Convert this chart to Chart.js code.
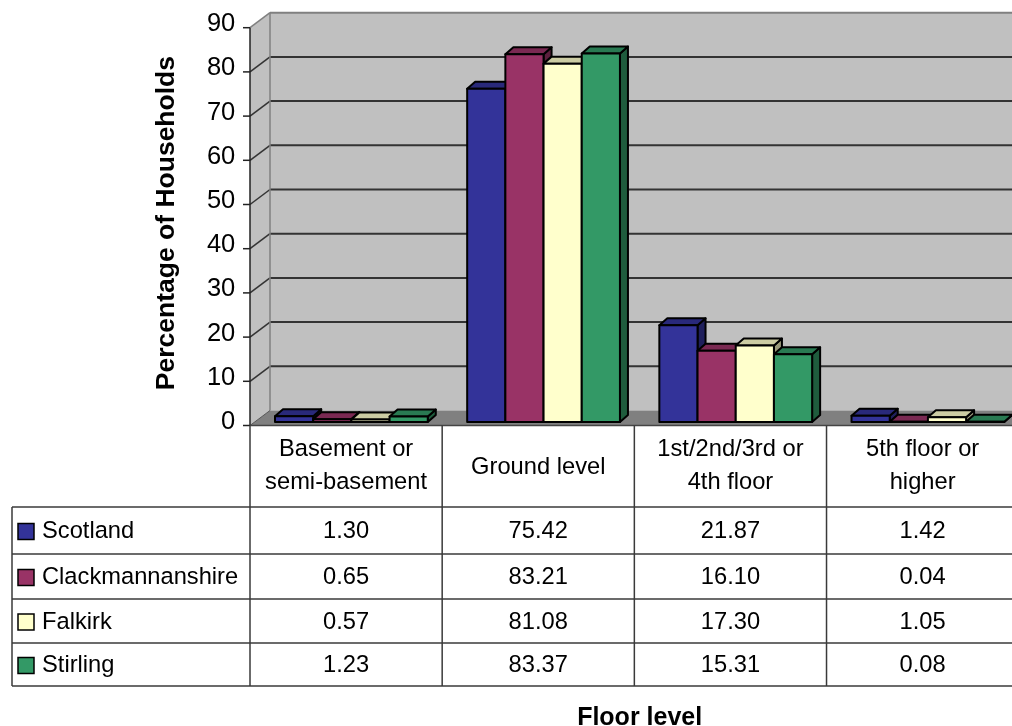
<!DOCTYPE html>
<html>
<head>
<meta charset="utf-8">
<script src="https://cdn.jsdelivr.net/npm/chart.js@4.4.1/dist/chart.umd.min.js"></script>
<style>
  html, body { margin: 0; padding: 0; background: #fff; overflow: hidden; }
  canvas { display: block; }
</style>
</head>
<body>
<canvas id="floorChart" width="1024" height="726"></canvas>
<script>
// data
const categories = [["Basement or", "semi-basement"], ["Ground level"], ["1st/2nd/3rd or", "4th floor"], ["5th floor or", "higher"]];
const seriesNames = ["Scotland", "Clackmannanshire", "Falkirk", "Stirling"];
const scotland = [1.30, 75.42, 21.87, 1.42];
const clackmannanshire = [0.65, 83.21, 16.10, 0.04];
const falkirk = [0.57, 81.08, 17.30, 1.05];
const stirling = [1.23, 83.37, 15.31, 0.08];
const seriesColors = ["#333399", "#993366", "#FFFFCC", "#339966"];

const FONT = '"Liberation Sans", Arial, sans-serif';
Chart.defaults.font.family = FONT;
Chart.defaults.color = "#000";

// 3d look: offsets from the bar plane
const BAR_DX = 8, BAR_DY = -7;
const FRONT_DX = -5.3, FRONT_DY = 3.5;
const BACK_DX = 14.7, BACK_DY = -11.5;
const ROW_LINES = [507, 554, 599, 643, 686];
const TABLE_FONT = 23.7;

function shade(hex, f) {
  const n = parseInt(hex.slice(1), 16);
  const r = Math.round(((n >> 16) & 255) * f);
  const g = Math.round(((n >> 8) & 255) * f);
  const b = Math.round((n & 255) * f);
  return `rgb(${r},${g},${b})`;
}

function poly(ctx, pts, fill, stroke, lw) {
  ctx.beginPath();
  ctx.moveTo(pts[0][0], pts[0][1]);
  for (let i = 1; i < pts.length; i++) ctx.lineTo(pts[i][0], pts[i][1]);
  ctx.closePath();
  if (fill) { ctx.fillStyle = fill; ctx.fill(); }
  if (stroke) { ctx.strokeStyle = stroke; ctx.lineWidth = lw; ctx.stroke(); }
}

function line(ctx, x1, y1, x2, y2, color, lw) {
  ctx.beginPath();
  ctx.moveTo(x1, y1);
  ctx.lineTo(x2, y2);
  ctx.strokeStyle = color;
  ctx.lineWidth = lw;
  ctx.stroke();
}

const walls3d = {
  id: "walls3d",
  beforeDatasetsDraw(chart) {
    const { ctx, chartArea, scales: { y } } = chart;
    const fx = chartArea.left + FRONT_DX;
    const bx = chartArea.left + BACK_DX;
    const right = chart.width;
    const yF = (v) => y.getPixelForValue(v) + FRONT_DY;
    const yB = (v) => y.getPixelForValue(v) + BACK_DY;
    const vmax = y.max, vmin = y.min;
    ctx.save();
    // back wall + side wall
    poly(ctx, [[bx, yB(vmax)], [right, yB(vmax)], [right, yB(vmin)], [bx, yB(vmin)]], "#C0C0C0");
    poly(ctx, [[fx, yF(vmax)], [bx, yB(vmax)], [bx, yB(vmin)], [fx, yF(vmin)]], "#C0C0C0");
    // floor
    poly(ctx, [[fx, yF(vmin)], [bx, yB(vmin)], [right, yB(vmin)], [right, yF(vmin)]], "#808080");
    // gridlines
    y.ticks.forEach((t) => {
      const v = t.value;
      if (v === vmin) return;
      const c = v === vmax ? "#808080" : "#333";
      line(ctx, bx, yB(v), right, yB(v), c, 2);
      line(ctx, fx, yF(v), bx, yB(v), c, 1.5);
    });
    line(ctx, bx, yB(vmax), bx, yB(vmin), "#808080", 1.5);
    line(ctx, fx, yF(vmin), bx, yB(vmin), "#555", 1);
    // front axis
    line(ctx, fx, yF(vmax), fx, yF(vmin), "#222", 1.5);
    y.ticks.forEach((t) => line(ctx, fx - 7, yF(t.value), fx, yF(t.value), "#222", 1.5));
    ctx.restore();
  },
  afterDatasetsDraw(chart) {
    const { ctx } = chart;
    ctx.save();
    ctx.lineJoin = "round";
    const n = chart.data.labels.length;
    for (let i = 0; i < n; i++) {
      chart.data.datasets.forEach((ds, d) => {
        const el = chart.getDatasetMeta(d).data[i];
        const { x, y, base, width } = el.getProps(["x", "y", "base", "width"], true);
        const l = x - width / 2, r = x + width / 2;
        const c = seriesColors[d];
        poly(ctx, [[r, y], [r + BAR_DX, y + BAR_DY], [r + BAR_DX, base + BAR_DY], [r, base]], shade(c, 0.6), "#000", 2);
        poly(ctx, [[l, y], [l + BAR_DX, y + BAR_DY], [r + BAR_DX, y + BAR_DY], [r, y]], shade(c, 0.8), "#000", 2);
        poly(ctx, [[l, y], [r, y], [r, base], [l, base]], c, "#000", 2);
      });
    }
    ctx.restore();
  },
  afterDraw(chart) {
    const { ctx, scales: { x, y } } = chart;
    const right = chart.width;
    const catW = x.width / chart.data.labels.length;
    const yTop = y.getPixelForValue(y.min) + FRONT_DY;
    const legendLeft = 12;
    const bounds = chart.data.labels.map((_, i) => x.getPixelForValue(i) - catW / 2 + FRONT_DX);
    bounds.push(bounds[bounds.length - 1] + catW);
    const lineColor = "#3a3a3a";
    const last = ROW_LINES[ROW_LINES.length - 1];
    ctx.save();
    // grid of the data table
    line(ctx, bounds[0], yTop, right, yTop, "#444", 1.5);
    ROW_LINES.forEach((ry) => line(ctx, legendLeft, ry, right, ry, lineColor, 1.5));
    line(ctx, legendLeft, ROW_LINES[0], legendLeft, last, lineColor, 1.5);
    bounds.slice(0, -1).forEach((bxp) => line(ctx, bxp, yTop, bxp, last, lineColor, 1.5));

    ctx.fillStyle = "#000";
    ctx.textAlign = "center";
    ctx.textBaseline = "middle";
    ctx.font = `${TABLE_FONT}px ${FONT}`;
    // category headers
    const headMid = (yTop + ROW_LINES[0]) / 2;
    categories.forEach((lab, i) => {
      const cx = (bounds[i] + bounds[i + 1]) / 2;
      if (lab.length === 1) {
        ctx.fillText(lab[0], cx, headMid + 1);
      } else {
        ctx.fillText(lab[0], cx, headMid - 17);
        ctx.fillText(lab[1], cx, headMid + 16);
      }
    });
    // rows
    const rows = [scotland, clackmannanshire, falkirk, stirling];
    rows.forEach((vals, r) => {
      const cy = (ROW_LINES[r] + ROW_LINES[r + 1]) / 2 + 1;
      vals.forEach((v, i) => {
        const cx = (bounds[i] + bounds[i + 1]) / 2;
        ctx.textAlign = "center";
        ctx.fillText(v.toFixed(2), cx, cy);
      });
      // legend key
      ctx.fillStyle = seriesColors[r];
      ctx.fillRect(18, cy - 8, 16, 16);
      ctx.strokeStyle = "#000";
      ctx.lineWidth = 1.5;
      ctx.strokeRect(18, cy - 8, 16, 16);
      ctx.fillStyle = "#000";
      ctx.textAlign = "left";
      ctx.fillText(seriesNames[r], 42, cy);
    });
    ctx.restore();
  }
};

new Chart(document.getElementById("floorChart"), {
  type: "bar",
  data: {
    labels: categories,
    datasets: [
      { label: seriesNames[0], data: scotland, backgroundColor: seriesColors[0] },
      { label: seriesNames[1], data: clackmannanshire, backgroundColor: seriesColors[1] },
      { label: seriesNames[2], data: falkirk, backgroundColor: seriesColors[2] },
      { label: seriesNames[3], data: stirling, backgroundColor: seriesColors[3] },
    ],
  },
  options: {
    responsive: false,
    animation: false,
    datasets: { bar: { borderColor: "#000", borderWidth: 2, categoryPercentage: 0.795, barPercentage: 1 } },
    layout: { padding: { left: 153, top: 24.2, right: 0, bottom: 0 } },
    plugins: { legend: { display: false }, tooltip: { enabled: false } },
    scales: {
      x: {
        grid: { display: false },
        border: { display: false },
        ticks: { display: false },
        title: { display: true, text: "Floor level", font: { size: 25, weight: "bold", lineHeight: 1 }, padding: { top: 0, bottom: -5 } },
        afterFit: (s) => { s.height = 726 - 422; s.paddingLeft = 0; s.paddingRight = 0; },
      },
      y: {
        min: 0,
        max: 90,
        ticks: { stepSize: 10, padding: 20, font: { size: 25.5 } },
        grid: { display: false, drawTicks: false, tickLength: 0 },
        border: { display: false },
        title: { display: true, text: "Percentage of Households", font: { size: 26.5, weight: "bold", lineHeight: 1 }, padding: 0 },
        afterFit: (s) => { s.width = 102.3; s.paddingTop = 0; s.paddingBottom = 0; },
      },
    },
  },
  plugins: [walls3d],
});
</script>
</body>
</html>
